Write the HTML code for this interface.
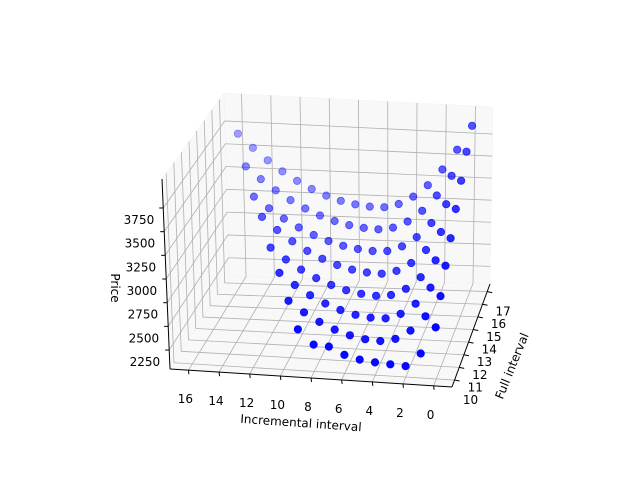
<!DOCTYPE html>
<html><head><meta charset="utf-8"><style>
html,body{margin:0;padding:0;background:#fff;}
svg{display:block;font-family:"DejaVu Sans","Liberation Sans",sans-serif;}
</style></head><body>
<svg id="chart" width="640" height="478" viewBox="0 0 640 478" xmlns="http://www.w3.org/2000/svg">
<rect width="640" height="478" fill="#fff"/>
<g id="panes"></g>
<g id="grid"></g>
<g id="axes"></g>
<g id="points"></g>
<text x="301" y="427" font-size="12" text-anchor="middle" transform="rotate(4 301 423)">Incremental interval</text>
<text x="512" y="370" font-size="12" text-anchor="middle" transform="rotate(-68 512 366)">Full interval</text>
<text x="111" y="288" font-size="12" text-anchor="middle" transform="rotate(90 111 288)">Price</text>
</svg>
<script>
// Full interval rows; incremental interval runs 0..(full-1) in each row
const yVals = [10,11,12,13,14,15,16,17];
const zRow10 = [2620,2320,2170,2180,2190,2210,2250,2330,2340,2495];
const zRow11 = [2830,2594,2425,2324,2290,2300,2332,2384,2457,2550,2665];
const zRow12 = [3030,2776,2587,2464,2405,2404,2425,2467,2528,2609,2710,2830];
const zRow13 = [3200,2943,2745,2607,2529,2510,2523,2553,2601,2667,2750,2851,2970];
const zRow14 = [3390,3122,2912,2758,2661,2621,2626,2649,2691,2750,2828,2924,3038,3170];
const zRow15 = [3570,3297,3077,2911,2799,2740,2731,2745,2773,2817,2875,2949,3038,3141,3260];
const zRow16 = [3760,3479,3249,3070,2942,2866,2840,2848,2871,2909,2962,3031,3116,3215,3330,3460];
const zRow17 = [3915,3637,3406,3222,3086,2996,2954,2953,2971,3004,3054,3120,3202,3300,3414,3544,3690];
const zRows = [zRow10,zRow11,zRow12,zRow13,zRow14,zRow15,zRow16,zRow17];
const xTicks = [0,2,4,6,8,10,12,14,16];
const yTicks = [10,11,12,13,14,15,16,17];
const zTicks = [2250,2500,2750,3000,3250,3500,3750];

const XMIN=-1.2, XMAX=17.2, YMIN=9.45, YMAX=17.6, ZMIN=2050, ZMAX=4056;
const C = {
  '000':[452,387],'100':[170,369],'010':[490,284],'110':[229,276],
  '001':[450,206],'101':[162,179],'011':[493,107],'111':[224,93]
};
function tri(u,v,w){
  let r=[0,0];
  for(const a of [0,1])for(const b of [0,1])for(const c of [0,1]){
    const wt=(a?u:1-u)*(b?v:1-v)*(c?w:1-w);
    const p=C[''+a+b+c]; r[0]+=wt*p[0]; r[1]+=wt*p[1];
  }
  return r;
}
const uOf=x=>(x-XMIN)/(XMAX-XMIN);
const vOf=y=>(y-YMIN)/(YMAX-YMIN);
const wOf=z=>(z-ZMIN)/(ZMAX-ZMIN);
function proj(x,y,z){return tri(uOf(x),vOf(y),wOf(z));}
const NS='http://www.w3.org/2000/svg';
function mk(tag,attrs,parent){const e=document.createElementNS(NS,tag);for(const k in attrs)e.setAttribute(k,attrs[k]);parent.appendChild(e);return e;}
function line(p,q,stroke,sw,parent){return mk('line',{x1:p[0],y1:p[1],x2:q[0],y2:q[1],stroke:stroke,'stroke-width':sw},parent);}

const panes=document.getElementById('panes');
function poly(pts,name){const e=mk('polygon',{points:pts.map(p=>p.join(',')).join(' '),fill:'#f2f2f2','fill-opacity':0.5,stroke:'#f2f2f2','stroke-width':0.5},panes);

}
poly([tri(0,0,0),tri(1,0,0),tri(1,1,0),tri(0,1,0)],'floor-pane');
poly([tri(0,1,0),tri(1,1,0),tri(1,1,1),tri(0,1,1)],'back-pane');
poly([tri(1,0,0),tri(1,1,0),tri(1,1,1),tri(1,0,1)],'left-pane');

const grid=document.getElementById('grid');
const GC='#b0b0b0';
xTicks.forEach(x=>{const u=uOf(x);
  let l=line(tri(u,0,0),tri(u,1,0),GC,0.8,grid);
  
  
  l=line(tri(u,1,0),tri(u,1,1),GC,0.8,grid);
  
  });
yTicks.forEach(y=>{const v=vOf(y);
  let l=line(tri(0,v,0),tri(1,v,0),GC,0.8,grid);
  
  
  l=line(tri(1,v,0),tri(1,v,1),GC,0.8,grid);
  
  });
zTicks.forEach(z=>{const w=wOf(z);
  let l=line(tri(0,1,w),tri(1,1,w),GC,0.8,grid);
  
  
  l=line(tri(1,1,w),tri(1,0,w),GC,0.8,grid);
  
  });

const axes=document.getElementById('axes');
let al=line(tri(0,0,0),tri(1,0,0),'#000',1,axes);


al=line(tri(0,0,0),tri(0,1,0),'#000',1,axes);


al=line(tri(1,0,0),tri(1,0,1),'#000',1,axes);


function txt(s,x,y,anchor){const t=mk('text',{x:x,y:y,'font-size':12,'text-anchor':anchor,fill:'#000'},axes);t.textContent=s;return t;}
xTicks.forEach(x=>{const p=tri(uOf(x),0,0);
  const l=line(p,[p[0]+0.5,p[1]+4],'#000',1,axes);
  
  
  const t=txt(String(x),p[0]-3,p[1]+33,'middle');
  
  });
yTicks.forEach(y=>{const p=tri(0,vOf(y),0);
  const l=line(p,[p[0]+5,p[1]+1],'#000',1,axes);
  
  
  const t=txt(String(y),p[0]+16,p[1]+24,'middle');
  
  });
zTicks.forEach(z=>{const p=tri(1,0,wOf(z));
  const l=line(p,[p[0]-4,p[1]],'#000',1,axes);
  
  
  const t=txt(String(z),p[0]-9,p[1]+16,'end');
  
  });

const ptsG=document.getElementById('points');
const pts=[];
yVals.forEach((y,j)=>zRows[j].forEach((z,i)=>{
  const x=i;
  const u=uOf(x), v=vOf(y);
  pts.push({x:x,y:y,z:z,depth:v*(0.45+0.55*u)});
}));
pts.sort((a,b)=>b.depth-a.depth);
pts.forEach(p=>{
  const s=proj(p.x,p.y,p.z);
  const a=Math.max(0.3,1-0.72*p.depth);
  const c=mk('circle',{cx:s[0].toFixed(1),cy:s[1].toFixed(1),r:3.7,fill:'#0000ff','fill-opacity':a,stroke:'#0000ff','stroke-opacity':a,'stroke-width':0.8},ptsG);
  
  
});
</script>
</body></html>
